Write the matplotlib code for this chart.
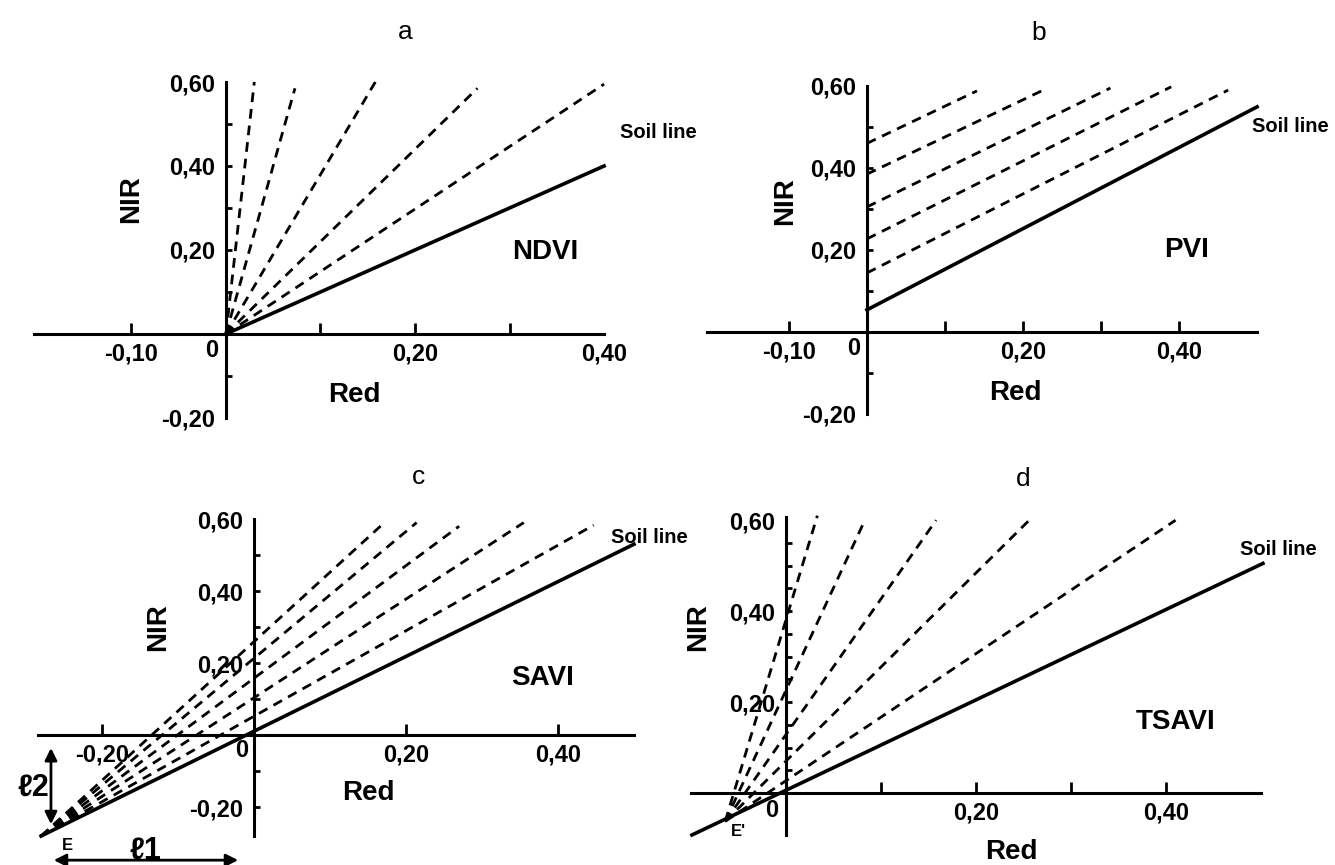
import matplotlib
matplotlib.use("Agg")
import matplotlib.pyplot as plt

plt.rcParams['font.family'] = ['Liberation Sans', 'DejaVu Sans']
plt.rcParams['font.weight'] = 'bold'

# --- a: NDVI, isolines through the origin
ndvi_end_red = [0.030, 0.073, 0.158, 0.266, 0.400]
ndvi_end_nir = [0.600, 0.585, 0.600, 0.585, 0.595]
ndvi_soil_red = [0.0, 0.40]
ndvi_soil_nir = [0.0, 0.40]

# --- b: PVI, isolines parallel to the soil line
pvi_start_nir = [0.144, 0.227, 0.305, 0.385, 0.460]
pvi_end_red = [0.463, 0.390, 0.312, 0.226, 0.141]
pvi_end_nir = [0.590, 0.598, 0.595, 0.590, 0.588]
pvi_soil_red = [0.0, 0.50]
pvi_soil_nir = [0.054, 0.549]

# --- c: SAVI, isolines meet at E
savi_e = [-0.28, -0.28]
savi_end_red = [0.168, 0.214, 0.270, 0.355, 0.447]
savi_end_nir = [0.583, 0.590, 0.580, 0.590, 0.583]
savi_soil_red = [-0.28, 0.50]
savi_soil_nir = [-0.28, 0.53]

# --- d: TSAVI, isolines meet at E'
tsavi_e = [-0.064, -0.062]
tsavi_end_red = [0.033, 0.083, 0.158, 0.256, 0.410]
tsavi_end_nir = [0.610, 0.600, 0.600, 0.600, 0.600]
tsavi_soil_red = [-0.099, 0.502]
tsavi_soil_nir = [-0.092, 0.505]

DASH = (0, (3.5, 2.5))
TICK_FS = 17
LAB_FS = 20
SOIL_FS = 14.5


def setup_axes(ax, xlim, ylim, xmajor, xlabels, xminor, ymajor, ylabels, yminor, ylen=4):
    ax.set_xlim(xlim)
    ax.set_ylim(ylim)
    ax.patch.set_visible(False)
    ax.spines['top'].set_visible(False)
    ax.spines['right'].set_visible(False)
    for s in ['left', 'bottom']:
        ax.spines[s].set_position(('data', 0))
        ax.spines[s].set_linewidth(2.2)
    ax.xaxis.remove_overlapping_locs = False
    ax.yaxis.remove_overlapping_locs = False
    ax.set_xticks(xmajor, xlabels)
    ax.set_xticks(xminor, minor=True)
    ax.set_yticks(ymajor, ylabels)
    ax.set_yticks(yminor, minor=True)
    ax.tick_params(axis='x', which='major', length=0, pad=6, labelsize=TICK_FS)
    ax.tick_params(axis='y', which='major', length=0, pad=8, labelsize=TICK_FS)
    ax.tick_params(axis='x', which='minor', direction='in', length=8, width=2)
    ax.tick_params(axis='y', which='minor', direction='in', length=ylen, width=2)
    ax.text(-0.008, -0.012, '0', ha='right', va='top', fontsize=TICK_FS)


fig = plt.figure(figsize=(13.35, 8.65), dpi=100)

# ---------------- a
ax = fig.add_axes([0.0255, 0.5168, 0.427, 0.3884])
setup_axes(ax, (-0.203, 0.40), (-0.20, 0.60),
           [-0.1, 0.2, 0.4], ['-0,10', '0,20', '0,40'], [-0.1, 0.1, 0.2, 0.3],
           [-0.2, 0.2, 0.4, 0.6], ['-0,20', '0,20', '0,40', '0,60'],
           [-0.1, 0.1, 0.2, 0.3, 0.4, 0.5])
for xr, yn in zip(ndvi_end_red, ndvi_end_nir):
    ax.plot([0, xr], [0, yn], color='black', lw=2, ls=DASH, clip_on=False)
ax.plot(ndvi_soil_red, ndvi_soil_nir, color='black', lw=2.6, clip_on=False)
ax.text(0.19, 0.72, 'a', ha='center', va='center', fontsize=19, fontweight='normal')
ax.text(0.338, 0.195, 'NDVI', ha='center', va='center', fontsize=LAB_FS)
ax.text(0.417, 0.48, 'Soil line', ha='left', va='center', fontsize=SOIL_FS)
ax.text(-0.10, 0.32, 'NIR', ha='center', va='center', rotation=90, fontsize=LAB_FS)
ax.text(0.136, -0.145, 'Red', ha='center', va='center', fontsize=LAB_FS)

# ---------------- b
ax = fig.add_axes([0.5296, 0.5214, 0.412, 0.3792])
setup_axes(ax, (-0.205, 0.50), (-0.20, 0.60),
           [-0.1, 0.2, 0.4], ['-0,10', '0,20', '0,40'], [-0.1, 0.1, 0.2, 0.3, 0.4],
           [-0.2, 0.2, 0.4, 0.6], ['-0,20', '0,20', '0,40', '0,60'],
           [-0.1, 0.1, 0.2, 0.3, 0.4, 0.5])
for y0, xr, yn in zip(pvi_start_nir, pvi_end_red, pvi_end_nir):
    ax.plot([0, xr], [y0, yn], color='black', lw=2, ls=DASH, clip_on=False)
ax.plot(pvi_soil_red, pvi_soil_nir, color='black', lw=2.6, clip_on=False)
ax.text(0.22, 0.73, 'b', ha='center', va='center', fontsize=19, fontweight='normal')
ax.text(0.41, 0.20, 'PVI', ha='center', va='center', fontsize=LAB_FS)
ax.text(0.494, 0.50, 'Soil line', ha='left', va='center', fontsize=SOIL_FS)
ax.text(-0.105, 0.32, 'NIR', ha='center', va='center', rotation=90, fontsize=LAB_FS)
ax.text(0.19, -0.15, 'Red', ha='center', va='center', fontsize=LAB_FS)

# ---------------- c
ax = fig.add_axes([0.0285, 0.0335, 0.4464, 0.3665])
setup_axes(ax, (-0.284, 0.50), (-0.28, 0.60),
           [-0.2, 0.2, 0.4], ['-0,20', '0,20', '0,40'], [-0.2, 0.2, 0.4],
           [-0.2, 0.2, 0.4, 0.6], ['-0,20', '0,20', '0,40', '0,60'],
           [-0.2, -0.1, 0.1, 0.2, 0.3, 0.4, 0.5])
for xr, yn in zip(savi_end_red, savi_end_nir):
    ax.plot([savi_e[0], xr], [savi_e[1], yn], color='black', lw=2, ls=DASH, clip_on=False)
ax.plot(savi_soil_red, savi_soil_nir, color='black', lw=2.6, clip_on=False)
ax.text(0.217, 0.717, 'c', ha='center', va='center', fontsize=19, fontweight='normal')
ax.text(0.38, 0.16, 'SAVI', ha='center', va='center', fontsize=LAB_FS)
ax.text(0.47, 0.55, 'Soil line', ha='left', va='center', fontsize=SOIL_FS)
ax.text(-0.126, 0.30, 'NIR', ha='center', va='center', rotation=90, fontsize=LAB_FS)
ax.text(0.15, -0.16, 'Red', ha='center', va='center', fontsize=LAB_FS)
ax.text(-0.245, -0.305, 'E', ha='center', va='center', fontsize=12)
ax.annotate('', xy=(-0.267, -0.255), xytext=(-0.267, -0.028),
            arrowprops=dict(arrowstyle='<|-|>', color='black', lw=2, mutation_scale=18),
            annotation_clip=False)
ax.annotate('', xy=(-0.017, -0.347), xytext=(-0.267, -0.347),
            arrowprops=dict(arrowstyle='<|-|>', color='black', lw=2, mutation_scale=18),
            annotation_clip=False)
ax.text(-0.29, -0.145, 'ℓ2', ha='center', va='center', fontsize=22)
ax.text(-0.143, -0.32, 'ℓ1', ha='center', va='center', fontsize=22)

# ---------------- d
ax = fig.add_axes([0.5176, 0.0347, 0.427, 0.3676])
setup_axes(ax, (-0.10, 0.50), (-0.092, 0.607),
           [0.2, 0.4], ['0,20', '0,40'], [0.1, 0.2, 0.3, 0.4],
           [0.2, 0.4, 0.6], ['0,20', '0,40', '0,60'],
           [0.05, 0.10, 0.15, 0.20, 0.25, 0.30, 0.35, 0.40, 0.45, 0.50, 0.55])
for xr, yn in zip(tsavi_end_red, tsavi_end_nir):
    ax.plot([tsavi_e[0], xr], [tsavi_e[1], yn], color='black', lw=2, ls=DASH, clip_on=False)
ax.plot(tsavi_soil_red, tsavi_soil_nir, color='black', lw=2.6, clip_on=False)
ax.text(0.25, 0.69, 'd', ha='center', va='center', fontsize=19, fontweight='normal')
ax.text(0.41, 0.157, 'TSAVI', ha='center', va='center', fontsize=LAB_FS)
ax.text(0.478, 0.536, 'Soil line', ha='left', va='center', fontsize=SOIL_FS)
ax.text(-0.092, 0.365, 'NIR', ha='center', va='center', rotation=90, fontsize=LAB_FS)
ax.text(0.237, -0.13, 'Red', ha='center', va='center', fontsize=LAB_FS)
ax.text(-0.05, -0.085, "E'", ha='center', va='center', fontsize=12)

fig.savefig('out.png', dpi=100)
